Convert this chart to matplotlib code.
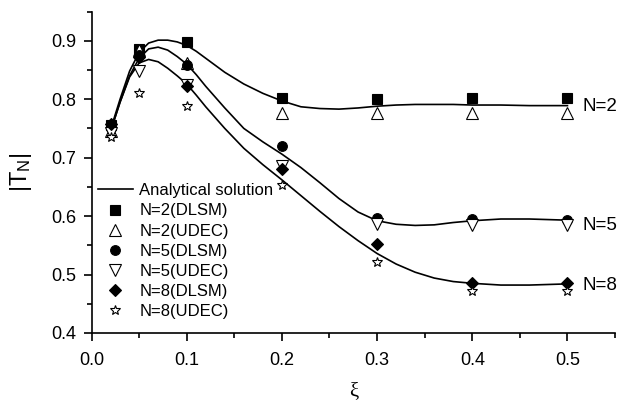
import numpy as np
import matplotlib
matplotlib.use("Agg")
import matplotlib.pyplot as plt
from matplotlib.ticker import MultipleLocator

plt.rcParams['font.family'] = ['Liberation Sans', 'DejaVu Sans']
plt.rcParams['mathtext.fontset'] = 'custom'
plt.rcParams['mathtext.rm'] = 'Liberation Sans'
plt.rcParams['mathtext.it'] = 'Liberation Sans'

# simulation points
xi = [0.02, 0.05, 0.1, 0.2, 0.3, 0.4, 0.5]
n2_dlsm = [0.755, 0.886, 0.897, 0.802, 0.800, 0.802, 0.802]
n2_udec = [0.745, 0.884, 0.862, 0.777, 0.776, 0.777, 0.776]
n5_dlsm = [0.750, 0.876, 0.858, 0.720, 0.596, 0.595, 0.594]
n5_udec = [0.743, 0.848, 0.825, 0.685, 0.587, 0.584, 0.584]
n8_dlsm = [0.757, 0.872, 0.822, 0.680, 0.553, 0.485, 0.485]
n8_udec = [0.735, 0.810, 0.788, 0.653, 0.521, 0.471, 0.471]

# analytical curves
xa = [0.02, 0.03, 0.04, 0.05, 0.06, 0.07, 0.08, 0.09, 0.10, 0.11, 0.12, 0.14,
      0.16, 0.18, 0.20, 0.22, 0.24, 0.26, 0.28, 0.30, 0.32, 0.34, 0.36, 0.38,
      0.40, 0.43, 0.46, 0.50]
ana_n2 = [0.748, 0.800, 0.848, 0.880, 0.896, 0.901, 0.901, 0.898, 0.892, 0.882,
          0.870, 0.846, 0.826, 0.810, 0.797, 0.787, 0.784, 0.783, 0.785, 0.788,
          0.790, 0.791, 0.791, 0.791, 0.790, 0.790, 0.789, 0.789]
ana_n5 = [0.745, 0.795, 0.840, 0.870, 0.886, 0.889, 0.884, 0.873, 0.860, 0.842,
          0.822, 0.785, 0.750, 0.727, 0.706, 0.683, 0.657, 0.630, 0.607, 0.592,
          0.586, 0.584, 0.585, 0.589, 0.592, 0.595, 0.595, 0.593]
ana_n8 = [0.745, 0.795, 0.838, 0.862, 0.868, 0.864, 0.853, 0.840, 0.826, 0.807,
          0.787, 0.750, 0.716, 0.688, 0.662, 0.635, 0.608, 0.582, 0.558, 0.536,
          0.518, 0.504, 0.494, 0.488, 0.485, 0.482, 0.482, 0.484]

fig = plt.figure(figsize=(6.2, 4.01), dpi=100)
ax = fig.add_axes([0.1476, 0.1696, 0.8444, 0.8017])

lw = 1.2
ax.plot(xa, ana_n2, color='black', lw=lw, label='Analytical solution')
ax.plot(xa, ana_n5, color='black', lw=lw)
ax.plot(xa, ana_n8, color='black', lw=lw)

mk = dict(ls='none', color='black', mec='black', mew=0.8)
ax.plot(xi, n2_dlsm, marker='s', ms=6.5, mfc='black', label='N=2(DLSM)', **mk)
ax.plot(xi, n2_udec, marker='^', ms=8, mfc='white', label='N=2(UDEC)', **mk)
ax.plot(xi, n5_dlsm, marker='o', ms=7, mfc='black', label='N=5(DLSM)', **mk)
ax.plot(xi, n5_udec, marker='v', ms=8, mfc='white', label='N=5(UDEC)', **mk)
ax.plot(xi, n8_dlsm, marker='D', ms=6, mfc='black', label='N=8(DLSM)', **mk)
ax.plot(xi, n8_udec, marker='*', ms=7.5, mfc='white', label='N=8(UDEC)', **mk)

ax.set_xlim(0, 0.55)
ax.set_ylim(0.4, 0.95)
ax.xaxis.set_minor_locator(MultipleLocator(0.05))
ax.yaxis.set_minor_locator(MultipleLocator(0.05))
ax.set_xticks([0.0, 0.1, 0.2, 0.3, 0.4, 0.5])
ax.set_xticklabels(['0.0', '0.1', '0.2', '0.3', '0.4', '0.5'])
ax.set_yticks([0.4, 0.5, 0.6, 0.7, 0.8, 0.9])
ax.set_yticklabels(['0.4', '0.5', '0.6', '0.7', '0.8', '0.9'])

for s in ['top', 'right']:
    ax.spines[s].set_visible(False)
for s in ['left', 'bottom']:
    ax.spines[s].set_linewidth(1.2)
ax.tick_params(which='major', direction='out', length=6, width=1.2,
               labelsize=13, pad=5)
ax.tick_params(axis='x', which='major', pad=8)
ax.tick_params(which='minor', direction='out', length=3.5, width=1.2)

ax.set_xlabel('ξ', fontsize=15, family=['Liberation Serif', 'DejaVu Serif'],
              labelpad=9)
ax.set_ylabel(r'$|\mathrm{T}_\mathrm{N}|$', fontsize=17, labelpad=12)

for lab, yy in [('N=2', 0.788), ('N=5', 0.584), ('N=8', 0.482)]:
    ax.text(0.516, yy, lab, fontsize=13.5, va='center', ha='left', clip_on=False)

ax.legend(loc='upper left', bbox_to_anchor=(0.012, 0.466), frameon=False,
          fontsize=12, handlelength=2.1, handletextpad=0.4, labelspacing=0.31,
          borderaxespad=0, borderpad=0, numpoints=1)

fig.savefig('out.png', dpi=100)
